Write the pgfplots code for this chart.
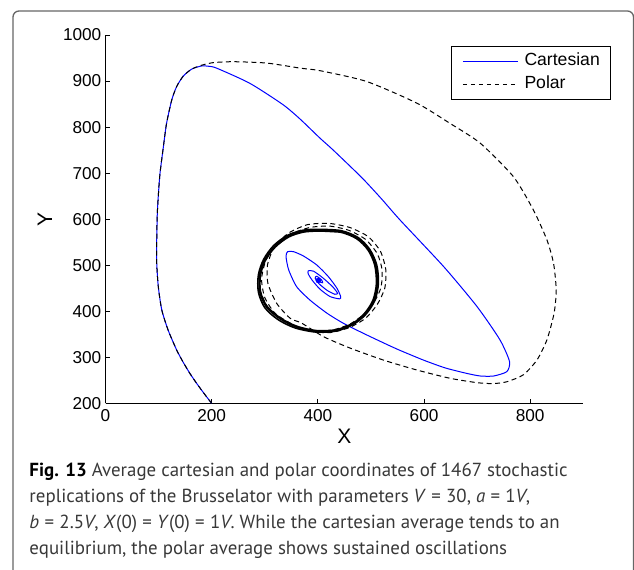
\documentclass[border=0pt]{standalone}
\usepackage{fontspec}
\setmainfont{Liberation Sans}
\newfontfamily\capfont{PT Sans}
\usepackage{pgfplots}
\pgfplotsset{compat=1.18}
\definecolor{framegray}{rgb}{0.40,0.40,0.40}
\definecolor{captext}{rgb}{0.22,0.22,0.22}
\begin{document}
\begin{tikzpicture}[x=1bp,y=1bp]
\useasboundingbox (0,0) rectangle (634,570);
\draw[framegray, line width=1.3bp, rounded corners=6bp] (13,-20) -- (13,559) -- (633.5,559) -- (633.5,-20);
\begin{axis}[
  at={(105.5bp,166.6bp)}, anchor=south west,
  scale only axis, width=477.8bp, height=368.4bp,
  xmin=0, xmax=900, ymin=200, ymax=1000,
  axis x line*=bottom, axis y line*=left,
  axis line style={-, line width=0.9bp},
  tick align=inside, major tick length=4.5bp,
  tick style={line width=0.9bp, black},
  xtick={0,200,400,600,800}, ytick={200,300,400,500,600,700,800,900,1000},
  /pgf/number format/assume math mode=true,
  /pgf/number format/set thousands separator={},
  ticklabel style={font=\fontsize{17.2bp}{20bp}\selectfont},
  yticklabel style={inner sep=0pt, xshift=-4bp},
  xticklabel style={inner sep=0pt, yshift=-6bp},
  xlabel={X}, ylabel={Y},
  label style={font=\fontsize{21bp}{24bp}\selectfont},
  xlabel style={at={(axis description cs:0.5,-0.0904)}, anchor=center},
  ylabel style={at={(axis description cs:-0.1266,0.5)}, anchor=center},
  legend style={at={(axis description cs:0.7231,0.9701)}, anchor=north west,
    draw=black, line width=0.8bp, fill=white,
    font=\fontsize{17.6bp}{20bp}\selectfont,
    inner xsep=11bp, inner ysep=7bp, row sep=6.7bp, column sep=6bp,
    nodes={inner sep=0bp, text height=12.5bp, text depth=3.5bp}},
  legend cell align=left,
]
% Cartesian average
\addplot[blue, draw=blue, line width=1bp, smooth, tension=0.4,
  legend image code/.code={%
    \pgfpathmoveto{\pgfpoint{0bp}{0bp}}\pgfpathlineto{\pgfpoint{55bp}{0bp}}%
    \pgfsetstrokecolor{blue}\pgfsetlinewidth{1.1bp}\pgfsetdash{}{0pt}\pgfusepath{stroke}}] coordinates {
(200,200) (186,221) (172,243) (159,265) (146,290) (134,316) (118,359) (106,403)
(99.5,453) (96.5,504) (96.5,555) (97.6,613) (100,660) (102.7,700) (109,757)
(115,808) (124.8,859) (134,888) (146.6,911) (162.5,926) (181,932.7) (195,932)
(210,927.7) (272,895) (334,849) (366,818) (404,776) (429,750) (483,690)
(520,644) (555,598) (637,497) (700,410) (743,338) (761,291) (756,269)
(731,259.5) (706,259.5) (681,265) (640,277) (599,294) (555,315) (530,328)
(486,352) (448,374) (417,396) (385,424.5) (360,453.5) (345,490) (340,519)
(343,529.5) (354,529.5) (373,520) (398,500.5) (420,475) (436,450) (443,432)
(441,427) (423,432) (404,448) (389,468) (382,481) (382,488) (392,487)
(410,472) (429,452) (437,439) (432,437) (418,445) (402,460) (395,472)
(398,476) (407,468) (409,462) (401,465)
};
\addlegendentry{Cartesian}
% Polar average
\addplot[black, draw=black, line width=1bp, dash pattern=on 5bp off 3.5bp, smooth, tension=0.4,
  legend image code/.code={%
    \pgfpathmoveto{\pgfpoint{0bp}{0bp}}\pgfpathlineto{\pgfpoint{55bp}{0bp}}%
    \pgfsetstrokecolor{black}\pgfsetlinewidth{1bp}\pgfsetdash{{4.5bp}{3.5bp}}{0pt}\pgfusepath{stroke}}] coordinates {
(200,200) (186,221) (172,243) (159,265) (146,290) (134,316) (118,359) (106,403)
(99.5,453) (96.5,504) (96.5,555) (97.6,613) (100,660) (102.7,700) (109,757)
(115,808) (124.8,859) (134,888) (146.6,911) (162.5,926) (180,934) (203,940)
(241,942) (304,939) (367,928) (404,922.5) (492,899) (586.5,852) (649,808)
(706,765) (768.6,692) (806,620) (831.5,555) (844,504) (849,446) (845,396)
(831.5,338) (812.6,294) (787,262) (756,247) (730,243) (700,245) (649,254.5)
(586.5,272.5) (523.6,294) (461,320) (410.5,345) (370,374) (347.7,385)
(322.6,417) (306,460) (305,500) (318,540) (345,570) (380,588) (420,591)
(460,582) (495,562) (518,530) (528,490) (526,450) (512,415) (490,385)
(460,365) (425,354) (390,356) (355,370) (320,395) (300,430) (294,470)
(302,510) (322,545) (350,568) (385,582) (422,585) (458,576) (490,556)
(512,525) (521,490) (519,452) (506,420) (485,392) (460,372) (430,360)
(398,357) (362,366) (330,385) (305,410) (292,442)
};
\addlegendentry{Polar}
% Polar limit cycle (many noisy overlapping loops)
\addplot[black, line width=2.4bp, smooth, tension=0.5, forget plot] coordinates {
(404.3,575.1) (442,572.9) (473.4,558.5) (495.4,533.1) (507.9,500.5) (511.1,460.7)
(504.8,424.5) (489.1,395.6) (467.1,373.9) (435.7,359.4) (398,357.2) (360.3,366.6)
(328.9,384.7) (303.7,410.1) (291.2,442.6) (291.2,478.8) (300.6,511.4) (319.4,540.3)
(344.6,562.1) (372.8,572.9) (404.3,575.1) (442,572.9)
};
\addplot[black, line width=1.6bp, smooth, tension=0.5, forget plot] coordinates {
(404,578) (444,575) (476,560) (498,534) (511,500) (514,460)
(507,423) (490,393) (466,371) (434,357) (396,355) (357,364)
(325,382) (300,408) (288,442) (288,479) (298,513) (317,543)
(343,565) (372,576) (404,578) (444,575)
};
\addplot[blue, only marks, mark=*, mark size=2.6bp, forget plot] coordinates {(401,467)};
\end{axis}
\begin{scope}[every node/.style={anchor=base west, inner sep=0pt, text=captext,
  font=\capfont\fontsize{18.9bp}{24bp}\selectfont}]
\node at (29.3,93.5) {{\color{black}\bfseries Fig. 13} Average cartesian and polar coordinates of 1467 stochastic};
\node at (29.3,67.4) {replications of the Brusselator with parameters \textit{V}\hspace{0.28em}=\hspace{0.28em}30, \textit{a}\hspace{0.28em}=\hspace{0.28em}1\textit{V},};
\node at (29.3,41.3) {\textit{b}\hspace{0.28em}=\hspace{0.28em}2.5\textit{V}, \textit{X}(0)\hspace{0.28em}=\hspace{0.28em}\textit{Y}(0)\hspace{0.28em}=\hspace{0.28em}1\textit{V}. While the cartesian average tends to an};
\node at (29.3,15.2) {equilibrium, the polar average shows sustained oscillations};
\end{scope}
\end{tikzpicture}
\end{document}
